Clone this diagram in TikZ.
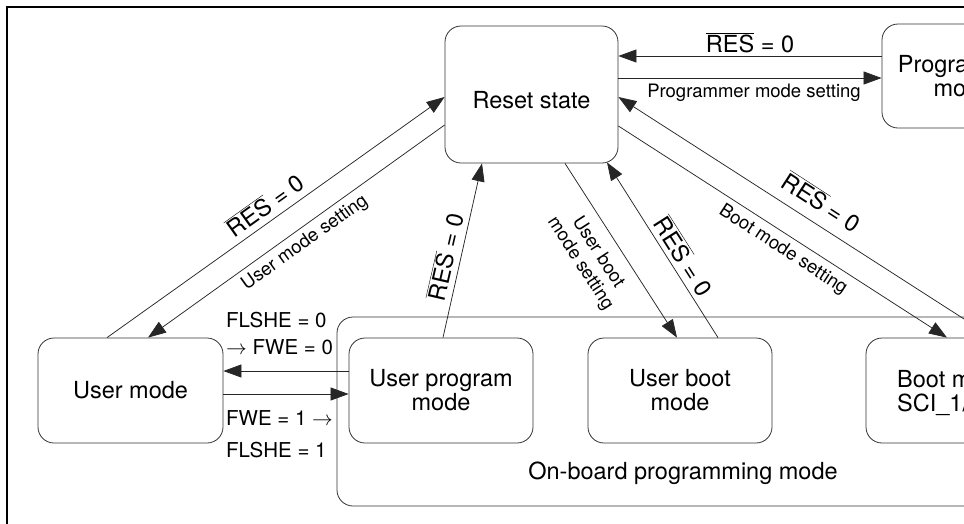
\documentclass[tikz,border=0pt]{standalone}
\usepackage{fontspec}
\setmainfont{TeX Gyre Heros}
\usetikzlibrary{arrows.meta,calc}
\newcommand\resbar{$\overline{\mbox{RES}}$}
\begin{document}
\begin{tikzpicture}[x=1pt,y=-1pt,
  box/.style={draw=black!80, line width=0.8pt, rounded corners=16pt, align=center,
    font=\fontsize{23.5}{24}\selectfont, inner sep=0pt, text=black},
  conn/.style={draw=black!85, line width=0.75pt},
  arr/.style={conn, -{Triangle[length=18pt,width=13pt]}},
  biglab/.style={font=\fontsize{23.5}{24}\selectfont, inner sep=0pt, text=black},
  flag/.style={font=\fontsize{20.5}{24}\selectfont, inner sep=0pt, anchor=west, text=black},
  smalllab/.style={font=\fontsize{18.5}{21}\selectfont, inner sep=0pt, align=center, text=black},
]
\useasboundingbox (0,0) rectangle (964,523);
\clip (0,0) rectangle (964,523);
\draw[line width=2.2pt] (7,7) rectangle (1300,800);

% container
\node[box, minimum width=863pt, minimum height=189pt] (onboard) at (768.5,411.5) {};
\node[biglab] (oblabel) at (683,473) {On-board programming mode};

% states
\node[box, minimum width=173pt, minimum height=137pt] (reset) at (531.5,94.5) {};
\node[biglab] (resettext) at (531.5,100) {Reset state};
\node[box, minimum width=162pt, minimum height=104pt] (prog) at (963,76) {Programmer\\mode};
\node[box, minimum width=185pt, minimum height=105pt] (user) at (130.5,390.5) {User mode};
\node[box, minimum width=184pt, minimum height=105pt] (uprog) at (441,390.5) {User program\\mode};
\node[box, minimum width=184pt, minimum height=105pt] (uboot) at (680,390.5) {User boot\\mode};
\node[box, minimum width=184pt, minimum height=105pt] (boot) at (958,390.5) {};
\node[biglab, anchor=west, align=left] (boottext) at (897,393.5) {Boot mode\\SCI\_1/SCI\_2};

% reset <-> programmer
\draw[arr] ($(prog.west)+(0,-20)$) -- ($(reset.east)+(0,-38.5)$);
\draw[arr] ($(reset.east)+(0,-16.5)$) -- ($(prog.west)+(0,2)$);
\node[biglab] (l1) at (750,43) {\resbar\ = 0};
\node[smalllab] (l2) at (754,93) {Programmer mode setting};

% reset <-> user mode
\draw[arr] ($(user.north)+(-23.5,0)$) -- ($(reset.west)+(0,2.5)$);
\draw[arr] ($(reset.west)+(0,30.5)$) -- ($(user.north)+(17.5,0)$);
\node[biglab, rotate=35.5] (l3) at (265,205) {\resbar\ = 0};
\node[smalllab, rotate=35.5] (l4) at (305,243) {User mode setting};

% user program -> reset
\draw[arr] ($(uprog.north)+(2,0)$) -- ($(reset.south)+(-49.5,0)$);
\node[biglab, rotate=77] (l5) at (445,257) {\resbar\ = 0};

% reset <-> user boot
\draw[arr] ($(reset.south)+(33.5,0)$) -- ($(uboot.north)+(-3,0)$);
\draw[arr] ($(uboot.north)+(38,0)$) -- ($(reset.south)+(75.5,-1)$);
\node[smalllab, rotate=-57] (l6) at (589,258) {User boot\\mode setting};
\node[biglab, rotate=-57.5] (l7) at (684,256) {\resbar\ = 0};

% reset <-> boot mode
\draw[arr] ($(boot.north)+(35,0)$) -- ($(reset.east)+(0,2.5)$);
\draw[arr] ($(reset.east)+(0,31.5)$) -- ($(boot.north)+(-11,0)$);
\node[biglab, rotate=-33] (l8) at (822,202) {\resbar\ = 0};
\node[smalllab, rotate=-33] (l9) at (783,250) {Boot mode setting};

% user mode <-> user program
\draw[arr] ($(uprog.west)+(0,-19.5)$) -- ($(user.east)+(0,-19.5)$);
\draw[arr] ($(user.east)+(0,3.5)$) -- ($(uprog.west)+(0,3.5)$);
\node[flag] (f1) at (226,320) {FLSHE = 0};
\node[flag] (f2) at (226,347) {$\rightarrow$ FWE = 0};
\node[flag] (f3) at (226,418) {FWE = 1 $\rightarrow$};
\node[flag] (f4) at (226,450) {FLSHE = 1};
\end{tikzpicture}
\end{document}
